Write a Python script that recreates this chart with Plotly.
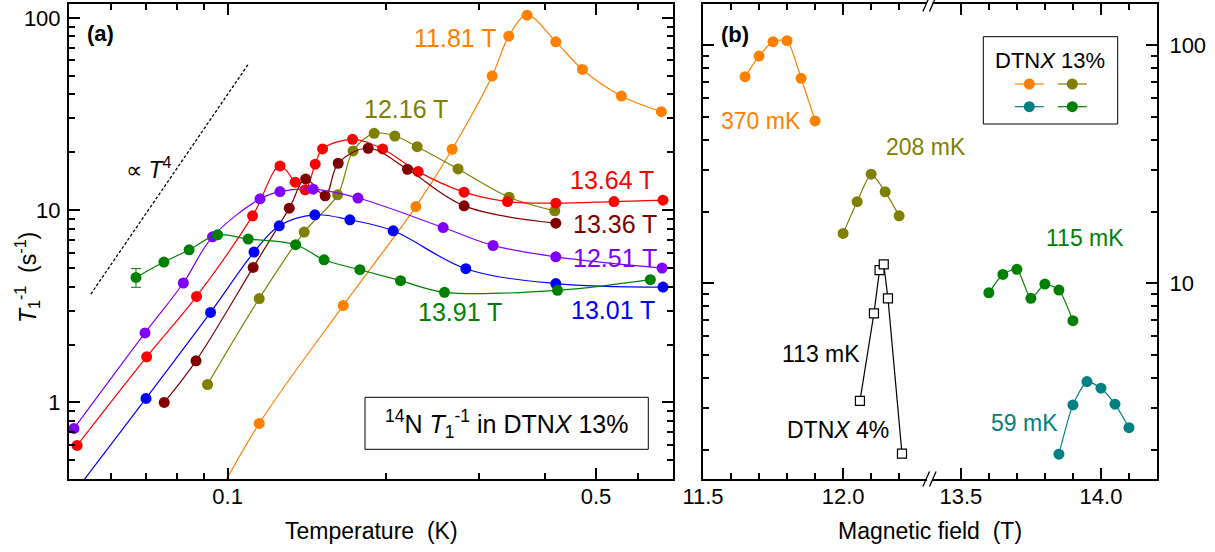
import numpy as np
import plotly.graph_objects as go

W, H = 1215, 552
FONT = "Arial, 'Liberation Sans', sans-serif"

# ---------------- Panel (a): 14N T1^-1 vs temperature (DTNX 13%) ----------------
T_1181 = [0.0928, 0.1148, 0.1657, 0.2276, 0.2667, 0.3176, 0.3416, 0.370, 0.4195, 0.4713, 0.5586, 0.6653]
R_1181 = [0.28, 0.778, 3.19, 10.44, 20.73, 49.8, 80.3, 103.2, 75.0, 53.9, 39.2, 32.5]

T_1216 = [0.0916, 0.1148, 0.1397, 0.1617, 0.1730, 0.1897, 0.2076, 0.2289, 0.2737, 0.342, 0.4176]
R_1216 = [1.24, 3.47, 7.69, 12.01, 20.31, 25.09, 24.30, 21.38, 16.38, 11.68, 9.92]

T_1364 = [0.0518, 0.0702, 0.0873, 0.1115, 0.1257, 0.1343, 0.1403, 0.1466, 0.1514, 0.1726, 0.1968,
          0.2299, 0.2810, 0.3396, 0.4195, 0.5409, 0.670]
R_1364 = [0.598, 1.727, 3.56, 9.34, 16.98, 13.98, 12.75, 17.33, 20.8, 23.36, 20.8,
          15.86, 12.40, 11.08, 10.87, 11.08, 11.27]

T_1336 = [0.0758, 0.0871, 0.1118, 0.1309, 0.1406, 0.1531, 0.1621, 0.1848, 0.2194, 0.2810, 0.4195]
R_1336 = [1.00, 1.646, 5.04, 10.24, 14.54, 11.87, 17.53, 20.98, 16.32, 10.53, 8.56]

T_1251 = [0.0511, 0.0697, 0.0824, 0.0936, 0.1152, 0.1257, 0.1453, 0.1767, 0.2564, 0.3189, 0.4195, 0.6673]
R_1251 = [0.733, 2.30, 4.18, 7.27, 11.45, 12.49, 12.85, 11.56, 8.12, 6.55, 5.72, 5.00]

T_1301 = [0.0518, 0.0700, 0.0928, 0.1122, 0.1253, 0.1464, 0.1706, 0.2061, 0.2831, 0.4195, 0.670]
R_1301 = [0.355, 1.05, 2.94, 6.05, 8.29, 9.45, 8.91, 7.81, 4.96, 4.15, 3.98]

T_1391 = [0.067, 0.0757, 0.0845, 0.0957, 0.1094, 0.1346, 0.1524, 0.1782, 0.2129, 0.2579, 0.4226, 0.634]
R_1391 = [4.47, 5.37, 6.22, 7.44, 7.07, 6.61, 5.52, 4.90, 4.30, 3.74, 3.83, 4.35]
E_1391 = [0.5, None, None, None, None, None, None, None, None, None, None, None]

# guide line  ~ T^4
GUIDE_T = [0.055, 0.1097]
GUIDE_R0 = 3.66

TEMP_TICKS = [0.1, 0.5]
TEMP_MINOR = [0.06, 0.07, 0.08, 0.09, 0.2, 0.3, 0.4, 0.6]
RATE_TICKS_A = [1, 10, 100]

# ---------------- Panel (b): T1^-1 vs magnetic field ----------------
B_370 = [11.65, 11.70, 11.75, 11.80, 11.85, 11.90]
R_370 = [73.6, 89.9, 103.3, 104.3, 72.5, 48.0]

B_208 = [12.00, 12.05, 12.10, 12.15, 12.20]
R_208 = [16.2, 22.0, 28.7, 24.2, 19.2]

B_113 = [12.06, 12.11, 12.13, 12.145, 12.16, 12.21]   # DTNX 4%
R_113 = [3.21, 7.48, 11.37, 12.02, 8.65, 1.93]

B_115 = [13.60, 13.65, 13.70, 13.75, 13.80, 13.85, 13.90]
R_115 = [9.13, 10.9, 11.45, 8.65, 9.93, 9.37, 6.97]

B_59 = [13.85, 13.90, 13.95, 14.00, 14.05, 14.10]
R_59 = [1.92, 3.09, 3.87, 3.63, 3.11, 2.48]

FIELD_TICKS = [11.5, 12.0, 13.5, 14.0]
FIELD_LABELS = ["11.5", "12.0", "13.5", "14.0"]
FIELD_MINOR = [11.6, 11.7, 11.8, 11.9, 12.1, 12.2, 13.6, 13.7, 13.8, 13.9, 14.1]
RATE_TICKS_B = [10, 100]

BREAK_SHIFT = 1.08  # broken axis: fields above 13 T are shifted left


def brk(b):
    return [v - BREAK_SHIFT if v > 13 else v for v in b]


C_OR, C_OL, C_RD, C_MR = "#FF8000", "#808000", "#FF0000", "#800000"
C_PU, C_BL, C_GR, C_TL = "#8000FF", "#0000FF", "#008000", "#008080"

fig = go.Figure()

series_a = [
    ("11.81 T", T_1181, R_1181, C_OR, None),
    ("12.16 T", T_1216, R_1216, C_OL, None),
    ("13.64 T", T_1364, R_1364, C_RD, None),
    ("13.36 T", T_1336, R_1336, C_MR, None),
    ("12.51 T", T_1251, R_1251, C_PU, None),
    ("13.01 T", T_1301, R_1301, C_BL, None),
    ("13.91 T", T_1391, R_1391, C_GR, E_1391),
]
for name, xs, ys, c, err in series_a:
    tr = dict(x=xs, y=ys, mode="lines+markers", name=name, showlegend=False,
              line=dict(color=c, width=1.2, shape="spline", smoothing=1.0),
              marker=dict(color=c, size=11), xaxis="x", yaxis="y")
    if err is not None:
        tr["error_y"] = dict(type="data", array=err, color=c, thickness=1, width=5)
    fig.add_trace(go.Scatter(**tr))

g = np.array(GUIDE_T)
fig.add_trace(go.Scatter(x=g, y=GUIDE_R0 * (g / g[0]) ** 4, mode="lines", showlegend=False,
                         line=dict(color="black", width=1.3, dash="3px,2px"), xaxis="x", yaxis="y"))

series_b = [
    ("370 mK", B_370, R_370, C_OR),
    ("208 mK", B_208, R_208, C_OL),
    ("115 mK", B_115, R_115, C_GR),
    ("59 mK", B_59, R_59, C_TL),
]
for name, xs, ys, c in series_b:
    fig.add_trace(go.Scatter(x=brk(xs), y=ys, mode="lines+markers", name=name, showlegend=False,
                             line=dict(color=c, width=1.2, shape="spline", smoothing=0.6),
                             marker=dict(color=c, size=11), xaxis="x2", yaxis="y2"))
fig.add_trace(go.Scatter(x=brk(B_113), y=R_113, mode="lines+markers", name="113 mK DTNX 4%",
                         showlegend=False, line=dict(color="black", width=1.2),
                         marker=dict(color="white", size=9, symbol="square",
                                     line=dict(color="black", width=1.2)),
                         xaxis="x2", yaxis="y2"))

tickfont = dict(family=FONT, size=22, color="black")
common = dict(showline=True, linecolor="black", linewidth=2, mirror="ticks", ticks="inside",
              ticklen=11, tickwidth=1.5, tickcolor="black", showgrid=False, zeroline=False,
              tickfont=tickfont, automargin=False)


def minor(vals):
    return dict(tickmode="array", tickvals=vals, ticks="inside", ticklen=6, tickwidth=1.5,
                tickcolor="black", showgrid=False)


YDOM = [1 - 479 / H, 1 - 4 / H]
fig.update_layout(
    width=W, height=H, margin=dict(l=0, r=0, t=0, b=0, autoexpand=False),
    paper_bgcolor="white", plot_bgcolor="white",
    font=dict(family=FONT, color="black"),
    xaxis=dict(domain=[69 / W, 673 / W], type="log", range=[np.log10(0.05), np.log10(0.7)],
               anchor="y", tickmode="array", tickvals=TEMP_TICKS, ticktext=["0.1", "0.5"],
               minor=minor(TEMP_MINOR), ticklabelstandoff=-3, **common),
    yaxis=dict(domain=YDOM, type="log", range=[np.log10(0.4), np.log10(118)], anchor="x",
               tickmode="array", tickvals=RATE_TICKS_A, ticktext=["1", "10", "100"],
               minor=minor([0.4, 0.5, 0.6, 0.7, 0.8, 0.9] + list(range(2, 10)) + list(range(20, 100, 10))),
               ticklabelstandoff=2, **common),
    xaxis2=dict(domain=[703 / W, 1157 / W], range=[11.5, 13.12], anchor="y2",
                tickmode="array", tickvals=brk(FIELD_TICKS), ticktext=FIELD_LABELS,
                minor=minor(brk(FIELD_MINOR)), ticklabelstandoff=-3, **common),
    yaxis2=dict(domain=YDOM, type="log", range=[np.log10(1.51), np.log10(148.6)], anchor="x2",
                side="right", tickmode="array", tickvals=RATE_TICKS_B, ticktext=["10", "100"],
                minor=minor(list(range(2, 10)) + list(range(20, 100, 10))),
                ticklabelstandoff=6, **common),
)


def P(x, y):
    return x / W, 1 - y / H


def ann(text, x, y, color="black", size=25, **kw):
    px, py = P(x, y)
    d = dict(text=text, x=px, y=py, xref="paper", yref="paper", showarrow=False,
             font=dict(family=FONT, size=size, color=color), xanchor="center", yanchor="middle")
    d.update(kw)
    return d


annotations = [
    ann("<b>(a)</b>", 100, 33, size=22),
    ann("<b>(b)</b>", 735, 34, size=22),
    ann("11.81 T", 454.5, 38, C_OR),
    ann("12.16 T", 405.5, 109, C_OL),
    ann("13.64 T", 611.7, 180, C_RD),
    ann("13.36 T", 615, 224, C_MR),
    ann("12.51 T", 615, 258, C_PU),
    ann("13.01 T", 612.5, 310, C_BL),
    ann("13.91 T", 460, 312, C_GR),
    ann("\u221d <i>T</i><sup>4</sup>", 148, 168, size=23),
    ann("<sup>14</sup>N <i>T</i><sub>1</sub><sup>-1</sup> in DTN<i>X</i> 13%", 506.7, 424, size=25),
    ann("<i>T</i><sub>1</sub><sup>-1</sup>\u00a0 (s<sup>-1</sup>)", 27, 278, size=23, textangle=-90),
    ann("Temperature\u00a0 (K)", 371, 531, size=23),
    ann("Magnetic field\u00a0 (T)", 930, 531, size=23),
    ann("370 mK", 760.5, 121, C_OR, 23),
    ann("208 mK", 925.5, 147, C_OL, 23),
    ann("115 mK", 1085, 238, C_GR, 23),
    ann("113 mK", 820.5, 354, "black", 23),
    ann("DTN<i>X</i> 4%", 837.5, 430, "black", 23),
    ann("59 mK", 1024, 423, C_TL, 23),
    ann("DTN<i>X</i> 13%", 1050, 60, "black", 22),
]

shapes = []
# box around the label in (a)
x0, y0 = P(365, 449.3)
x1, y1 = P(648.3, 397.3)
shapes.append(dict(type="rect", xref="paper", yref="paper", x0=x0, y0=y0, x1=x1, y1=y1,
                   line=dict(color="black", width=1), fillcolor="rgba(0,0,0,0)"))
# legend box in (b)
x0, y0 = P(983.3, 124)
x1, y1 = P(1117.7, 36.7)
shapes.append(dict(type="rect", xref="paper", yref="paper", x0=x0, y0=y0, x1=x1, y1=y1,
                   line=dict(color="black", width=1), fillcolor="white"))
for cx, cy, c in [(1029.3, 84, C_OR), (1072.3, 84, C_OL), (1029.3, 106.7, C_TL), (1072.3, 106.7, C_GR)]:
    a0, b0 = P(cx - 14.5, cy)
    a1, b1 = P(cx + 14.5, cy)
    shapes.append(dict(type="line", xref="paper", yref="paper", x0=a0, y0=b0, x1=a1, y1=b1,
                       line=dict(color=c, width=1.2)))
    ax, ay = P(cx, cy)
    shapes.append(dict(type="circle", xref="paper", yref="paper", xsizemode="pixel", ysizemode="pixel",
                       xanchor=ax, yanchor=ay, x0=-5.5, x1=5.5, y0=-5.5, y1=5.5,
                       fillcolor=c, line=dict(color=c, width=0)))
# axis-break marks
for yb in (479, 4):
    a0, b0 = P(927, yb)
    a1, b1 = P(932.5, yb)
    shapes.append(dict(type="line", xref="paper", yref="paper", x0=a0, y0=b0, x1=a1, y1=b1,
                       line=dict(color="white", width=4)))
    for xs in (926.2, 932.8):
        a0, b0 = P(xs - 3.3, yb + 7.5)
        a1, b1 = P(xs + 3.3, yb - 7.5)
        shapes.append(dict(type="line", xref="paper", yref="paper", x0=a0, y0=b0, x1=a1, y1=b1,
                           line=dict(color="black", width=1.3)))

fig.update_layout(annotations=annotations, shapes=shapes)
fig.write_html("out.html", config={"displayModeBar": False},
               post_script="document.body.style.margin='0';document.body.style.overflow='hidden';")
